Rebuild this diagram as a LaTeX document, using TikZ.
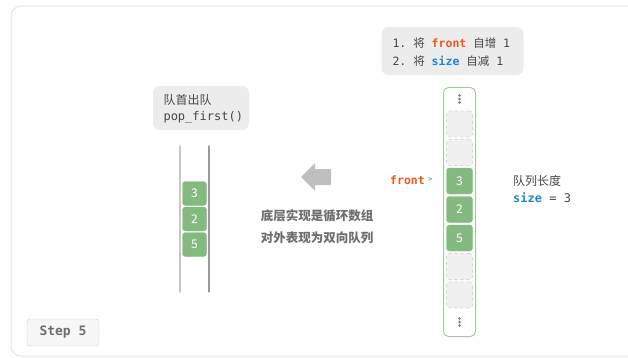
\documentclass[tikz,border=0pt]{standalone}
\usepackage{fontspec}
\setmainfont{Noto Sans CJK SC}
\setmonofont{DejaVu Sans Mono}
\usetikzlibrary{positioning}
\definecolor{framegray}{RGB}{228,228,228}
\definecolor{boxgray}{RGB}{236,236,236}
\definecolor{txtgray}{RGB}{70,70,70}
\definecolor{notegray}{RGB}{110,110,110}
\definecolor{cellgreen}{RGB}{132,186,128}
\definecolor{ringgreen}{RGB}{160,205,155}
\definecolor{voidfill}{RGB}{240,240,240}
\definecolor{voiddraw}{RGB}{212,212,212}
\definecolor{frontcol}{RGB}{238,88,28}
\definecolor{sizecol}{RGB}{28,134,214}
\newcommand{\hz}[1]{{\rmfamily #1}}

\begin{document}
\begin{tikzpicture}[
    x=1pt, y=-1pt,
    font=\fontsize{12}{14}\selectfont,
    notebox/.style={fill=boxgray, rounded corners=7pt, align=left, text=txtgray, inner sep=0pt},
    datacell/.style={fill=cellgreen, draw=cellgreen, rounded corners=3pt, text=white, inner sep=0pt},
    voidcell/.style={fill=voidfill, draw=voiddraw, dashed, line width=0.6pt, rounded corners=3pt, inner sep=0pt},
    wall/.style={line width=1.2pt, line cap=round},
    dotmark/.style={circle, fill=black!55, inner sep=0pt, minimum size=2.6pt}
]
  \def\pitch{28.5}
  \def\lpitch{25.5}
  \clip (0,0) rectangle (628,358);
  \useasboundingbox (0,0) rectangle (628,358);

  % outer frame
  \draw[framegray, line width=1pt, rounded corners=10pt] (11,6) rectangle (680,356);

  % notes
  \node[notebox, minimum width=142pt, minimum height=48pt] (opnote) at (452.5,51) {};
  \node[anchor=west, align=left, text=txtgray, font=\ttfamily\fontsize{11.5}{18.5}\selectfont] (optext) at (389,52)
    {1. \hz{将} {\bfseries\color{frontcol}front} \hz{自增} 1\\2. \hz{将} {\bfseries\color{sizecol}size} \hz{自减} 1};

  \node[notebox, minimum width=96pt, minimum height=44pt] (popnote) at (201,108) {};
  \node[anchor=west, align=left, text=txtgray, font=\fontsize{12}{16.5}\selectfont] (poptext) at (160,109)
    {队首出队\\\texttt{pop\_first()}};

  % deque seen from outside
  \draw[wall, black!22] (180,146) -- (180,292);
  \draw[wall, black!40] (209,146) -- (209,292);
  \foreach \i/\v in {0/3,1/2,2/5} {
    \node[datacell, minimum size=24pt] (qcell-\i) at (194.5,193.5+\lpitch*\i) {\v};
  }

  % block arrow
  \fill[black!25] (301,177) -- (315,163) -- (315,169) -- (331,169) -- (331,185) -- (315,185) -- (315,191) -- cycle;
  \node[text=notegray, font=\bfseries\fontsize{12.5}{22}\selectfont, align=center] (implnote) at (317,227)
    {底层实现是循环数组\\对外表现为双向队列};

  % circular array
  \node[draw=ringgreen, line width=1pt, rounded corners=5pt, minimum width=32pt, minimum height=249pt, inner sep=0pt] (ring) at (459.5,212) {};
  \foreach \i/\s/\v in {0/voidcell/{},1/voidcell/{},2/datacell/3,3/datacell/2,4/datacell/5,5/voidcell/{},6/voidcell/{}} {
    \node[\s, minimum size=26pt] (acell-\i) at (459.5,124+\pitch*\i) {\v};
  }
  \foreach \y in {99,322} {
    \node[dotmark] at (459.5,\y-3.5) {};
    \node[dotmark] at (459.5,\y) {};
    \node[dotmark] at (459.5,\y+3.5) {};
  }

  % front pointer
  \node[anchor=east, text=frontcol, font=\ttfamily\bfseries\fontsize{11.5}{14}\selectfont, inner sep=0pt] (frontlbl) at (425,180) {front};
  \node[right=3pt of frontlbl, text=notegray, font=\ttfamily\fontsize{7}{8}\selectfont, inner sep=0pt] (frontptr) {>};

  % size note
  \node[anchor=west, align=left, text=txtgray, font=\fontsize{12}{17}\selectfont, inner sep=0pt] (sizenote) at (513,189)
    {队列长度\\\texttt{{\bfseries\color{sizecol}size} = 3}};

  % step badge
  \node[fill=black!3, draw=black!20, rounded corners=3pt, minimum width=72pt, minimum height=27pt, text=notegray,
        font=\ttfamily\bfseries\fontsize{13}{15}\selectfont] (stepbadge) at (63,332.5) {Step 5};
\end{tikzpicture}
\end{document}
